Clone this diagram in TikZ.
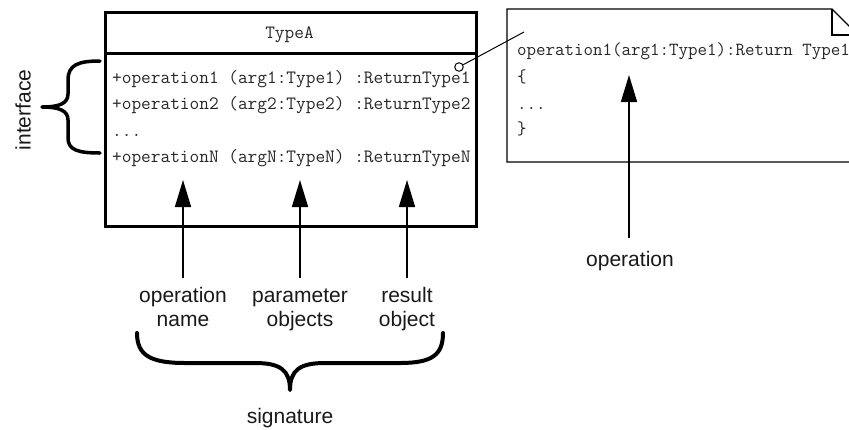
\documentclass[tikz,border=0pt]{standalone}
\usepackage{fontspec}
\setmainfont{Liberation Sans}
\usetikzlibrary{arrows.meta}
\begin{document}
\begin{tikzpicture}[x=1pt,y=-1pt,
  mono/.style={font=\fontsize{18.8}{20}\selectfont\ttfamily, inner sep=0pt, text=black!85},
  notemono/.style={font=\fontsize{18.45}{20}\selectfont\ttfamily, inner sep=0pt, text=black!85},
  lab/.style={font=\fontsize{21}{23.5}\selectfont, align=center, inner sep=0pt, text=black!90},
  arr/.style={line width=1.5pt, -{Triangle[length=27pt,width=16pt]}},
  bracestyle/.style={line width=3.5pt, line cap=round, line join=round},
  thinline/.style={line width=1pt}]
\useasboundingbox (0,0) rectangle (849,429);
\clip (0,0) rectangle (849,429);

% class box
\node[draw, line width=3pt, minimum width=371pt, minimum height=214pt, anchor=north west, inner sep=0pt] (cls) at (104,11) {};
\coordinate (divL) at (104,53);
\coordinate (divR) at (475,53);
\draw[line width=3pt] (divL) -- (divR);
\node[mono, anchor=base] (title) at (289.5,38) {TypeA};
\node[mono, anchor=base west] (op1) at (112,83) {+operation1 (arg1:Type1) :ReturnType1};
\node[mono, anchor=base west] (op2) at (112,109) {+operation2 (arg2:Type2) :ReturnType2};
\node[mono, anchor=base west] (opd) at (112,136) {...};
\node[mono, anchor=base west] (opN) at (112,162) {+operationN (argN:TypeN) :ReturnTypeN};

% note
\draw[line width=1.3pt, line join=miter] (507,9) -- (832,9) -- (858,35) -- (858,162) -- (507,162) -- cycle;
\draw[line width=1.3pt] (832,9) -- (832,35) -- (858,35);
\node[notemono, anchor=base west] (n1) at (517,55) {operation1(arg1:Type1):Return Type1};
\node[notemono, anchor=base west] (n2) at (517,82) {\{};
\node[notemono, anchor=base west] (n3) at (517,109) {...};
\node[notemono, anchor=base west] (n4) at (517,134) {\}};

% connector from class to note
\node[draw, circle, thinline, minimum size=8.5pt, inner sep=0pt, fill=white] (anchorc) at (459,67) {};
\coordinate (noteend) at (524,32);
\draw[thinline] (anchorc) -- (noteend);

% interface brace
\draw[bracestyle] (100,61) .. controls (78,61) and (68,65) .. (68,80) -- (68,94)
  .. controls (68,103) and (60,107) .. (42,107)
  .. controls (60,107) and (68,111) .. (68,120) -- (68,138)
  .. controls (68,150) and (78,153) .. (100,153);
\node[lab, rotate=90] (iface) at (23,110) {interface};

% arrows into class
\coordinate (t1) at (183,180);
\coordinate (t2) at (300,180);
\coordinate (t3) at (407,180);
\coordinate (s1) at (183,278);
\coordinate (s2) at (300,278);
\coordinate (s3) at (407,278);
\draw[arr] (s1) -- (t1);
\draw[arr] (s2) -- (t2);
\draw[arr] (s3) -- (t3);
\node[lab, anchor=base] (l1) at (183,326) {operation\\name};
\node[lab, anchor=base] (l2) at (300,326) {parameter\\objects};
\node[lab, anchor=base] (l3) at (407,326) {result\\object};

% signature brace
\draw[line width=4pt, line cap=round, line join=round] (137,333) .. controls (137,355) and (150,363) .. (185,363) -- (255,363)
  .. controls (280,363) and (290,370) .. (290,390)
  .. controls (290,370) and (300,363) .. (325,363) -- (400,363)
  .. controls (432,363) and (443,355) .. (443,333);
\node[lab, anchor=base] (sig) at (290,423) {signature};

% operation arrow
\coordinate (ot) at (629,75);
\coordinate (os) at (629,238);
\draw[arr] (os) -- (ot);
\node[lab, anchor=base] (opl) at (630,266) {operation};
\end{tikzpicture}
\end{document}
